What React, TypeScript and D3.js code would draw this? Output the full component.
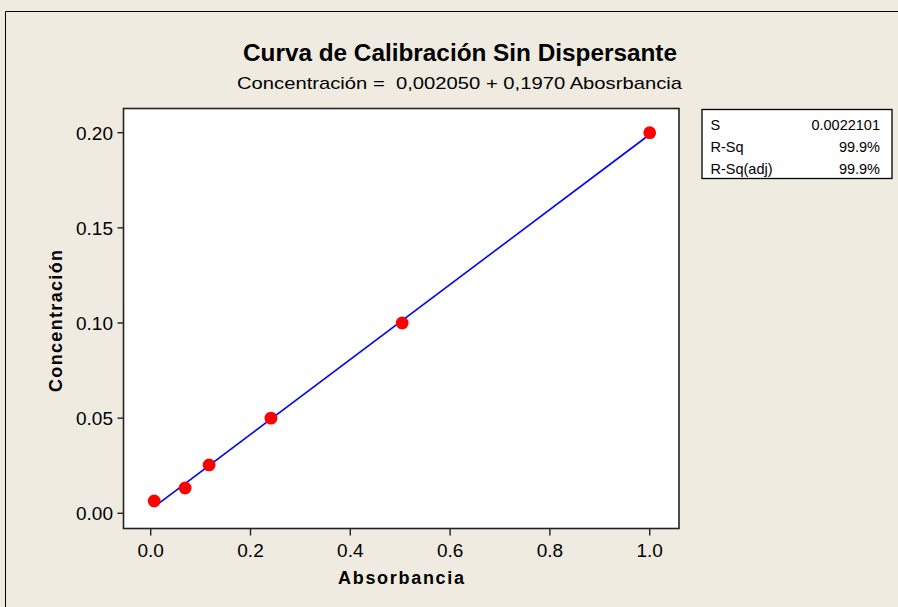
import React from "react";
import * as d3 from "d3";

const absorbancia = [0.007, 0.069, 0.117, 0.241, 0.504, 1.0];
const concentracion = [0.0065, 0.0133, 0.0254, 0.05, 0.1, 0.2];
const intercept = 0.00205;
const slope = 0.197;
const xTicks = [0, 0.2, 0.4, 0.6, 0.8, 1.0];
const yTicks = [0, 0.05, 0.1, 0.15, 0.2];
const statLabels = ["S", "R-Sq", "R-Sq(adj)"];
const statValues = ["0.0022101", "99.9%", "99.9%"];

const W = 898;
const H = 607;
const plot = { left: 123.5, right: 679, top: 108.5, bottom: 528.5 };
const BG = "#efebe1";
const FONT = "'Liberation Sans', Arial, sans-serif";

export default function App() {
  const x = d3.scaleLinear().domain([0, 1]).range([150.7, 649.7]);
  const y = d3.scaleLinear().domain([0, 0.2]).range([513.3, 132.7]);
  const xmin = d3.min(absorbancia) as number;
  const xmax = d3.max(absorbancia) as number;
  const fitPts: [number, number][] = [xmin, xmax].map((v) => [v, intercept + slope * v]);
  const line = d3
    .line<[number, number]>()
    .x((d) => x(d[0]))
    .y((d) => y(d[1]));
  const fx = d3.format(".1f");
  const fy = d3.format(".2f");

  return (
    <svg
      width={W}
      height={H}
      style={{ position: "absolute", left: 0, top: 0, background: BG }}
      fontFamily={FONT}
    >
      <rect x={0} y={0} width={W} height={H} fill={BG} />
      <line x1={5.5} y1={11.5} x2={W} y2={11.5} stroke="#000" strokeWidth={1} />
      <line x1={5.5} y1={11.5} x2={5.5} y2={H} stroke="#000" strokeWidth={1} />

      <text
        x={460}
        y={61}
        textAnchor="middle"
        fontSize={23}
        fontWeight="bold"
        textLength={434}
        lengthAdjust="spacingAndGlyphs"
      >
        Curva de Calibración Sin Dispersante
      </text>
      <text
        x={459.5}
        y={89}
        textAnchor="middle"
        fontSize={17}
        textLength={445}
        lengthAdjust="spacingAndGlyphs"
        style={{ whiteSpace: "pre" }}
      >
        {"Concentración =  0,002050 + 0,1970 Abosrbancia"}
      </text>

      <rect
        x={plot.left}
        y={plot.top}
        width={plot.right - plot.left}
        height={plot.bottom - plot.top}
        fill="#fff"
        stroke="#222"
        strokeWidth={1.6}
      />

      {yTicks.map((t) => (
        <g key={"y" + t}>
          <line x1={plot.left - 6} x2={plot.left} y1={y(t)} y2={y(t)} stroke="#222" strokeWidth={1.4} />
          <text x={113} y={y(t) + 7} textAnchor="end" fontSize={19}>
            {fy(t)}
          </text>
        </g>
      ))}
      {xTicks.map((t) => (
        <g key={"x" + t}>
          <line x1={x(t)} x2={x(t)} y1={plot.bottom} y2={plot.bottom + 7} stroke="#222" strokeWidth={1.4} />
          <text x={x(t)} y={557} textAnchor="middle" fontSize={19}>
            {fx(t)}
          </text>
        </g>
      ))}

      <text
        x={401}
        y={583.5}
        textAnchor="middle"
        fontSize={18}
        fontWeight="bold"
        textLength={126}
        lengthAdjust="spacing"
      >
        Absorbancia
      </text>
      <text
        transform="translate(61.5,321) rotate(-90)"
        textAnchor="middle"
        fontSize={18}
        fontWeight="bold"
        textLength={142}
        lengthAdjust="spacing"
      >
        Concentración
      </text>

      <path d={line(fitPts) || ""} fill="none" stroke="#0000ff" strokeWidth={1.6} />
      {absorbancia.map((a, i) => (
        <circle key={i} cx={x(a)} cy={y(concentracion[i])} r={6.4} fill="#ff0000" />
      ))}

      <rect x={702} y={109.5} width={190} height={69} fill="#fff" stroke="#000" strokeWidth={1.3} />
      {statLabels.map((s, i) => (
        <g key={s}>
          <text x={710.5} y={129.5 + i * 22.3} fontSize={14.5}>
            {s}
          </text>
          <text x={880} y={129.5 + i * 22.3} fontSize={14.5} textAnchor="end">
            {statValues[i]}
          </text>
        </g>
      ))}
    </svg>
  );
}
